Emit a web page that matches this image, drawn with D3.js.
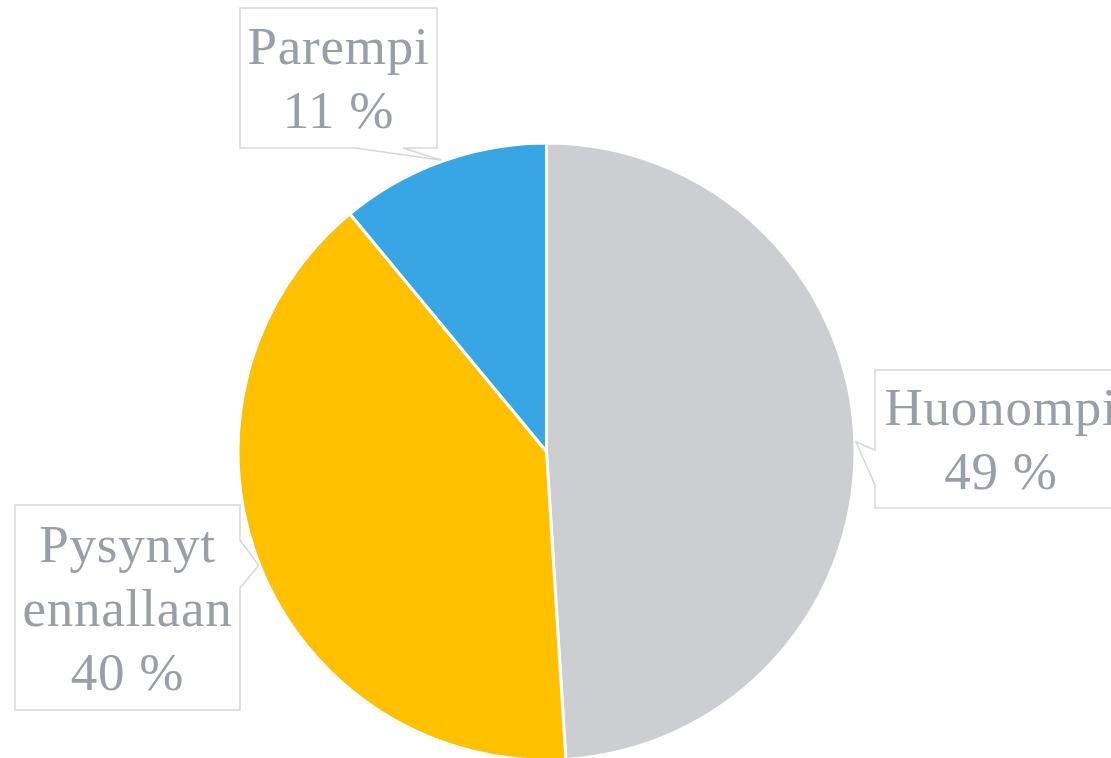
<!doctype html>
<html lang="fi">
	<head>
		<meta charset="utf-8" />
		<title>Pie</title>
		<style>
			html, body { margin: 0; padding: 0; background: #fff; overflow: hidden; }
			svg { display: block; }
			.lbl { font-family: "Liberation Serif", "Times New Roman", serif; font-size: 53px; letter-spacing: 0.8px; fill: #9a9ea7; }
		</style>
	</head>
	<body>
		<div id="chart"></div>
		<script src="https://cdn.jsdelivr.net/npm/d3@7"></script>
		<script>
			// data
			const categories = ["Huonompi", "Pysynyt ennallaan", "Parempi"];
			const values = [49, 40, 11];
			const labelLines = [["Huonompi", "49 %"], ["Pysynyt", "ennallaan", "40 %"], ["Parempi", "11 %"]];
			const colors = ["#cdced2", "#ffc000", "#38a6e2"];

			const WIDTH = 1111;
			const HEIGHT = 758;
			const CX = 546.5;
			const CY = 451.5;
			const R = 308.5;
			const LINE_H = 64;

			// callout boxes (placed by hand like the original), side = where the pointer leaves the box
			const boxes = [
				{ x: 875, y: 370, w: 252, h: 138, side: "left", b0: 450, b1: 485 },
				{ x: 15, y: 505, w: 225, h: 205, side: "right", b0: 540, b1: 588 },
				{ x: 240, y: 8, w: 197, h: 140, side: "bottom", b0: 355, b1: 403 }
			];

			const svg = d3.select("#chart").append("svg").attr("width", WIDTH).attr("height", HEIGHT);

			const pie = d3.pie().sort(null).value((d) => d);
			const arcs = pie(values);
			const arc = d3.arc().innerRadius(0).outerRadius(R);

			const g = svg.append("g").attr("transform", `translate(${CX},${CY})`);
			g.selectAll("path")
				.data(arcs)
				.join("path")
				.attr("d", arc)
				.attr("fill", (d, i) => colors[i])
				.attr("stroke", "#fff")
				.attr("stroke-width", 3)
				.attr("stroke-linejoin", "round");

			// callouts
			arcs.forEach((a, i) => {
				const b = boxes[i];
				const mid = (a.startAngle + a.endAngle) / 2;
				const tx = CX + (R + 1) * Math.sin(mid);
				const ty = CY - (R + 1) * Math.cos(mid);
				const x0 = b.x, y0 = b.y, x1 = b.x + b.w, y1 = b.y + b.h;
				let pts;
				if (b.side === "left") {
					pts = [[x0, y0], [x1, y0], [x1, y1], [x0, y1], [x0, b.b1], [tx, ty], [x0, b.b0]];
				} else if (b.side === "right") {
					pts = [[x0, y0], [x1, y0], [x1, b.b0], [tx, ty], [x1, b.b1], [x1, y1], [x0, y1]];
				} else {
					pts = [[x0, y0], [x1, y0], [x1, y1], [b.b1, y1], [tx, ty], [b.b0, y1], [x0, y1]];
				}
				svg.append("path")
					.attr("d", d3.line()(pts) + "Z")
					.attr("fill", "#fff")
					.attr("stroke", "#d6d7da")
					.attr("stroke-width", 1.5);

				const lines = labelLines[i];
				const cy = b.y + b.h / 2;
				const first = cy - ((lines.length - 1) * LINE_H) / 2 + 18;
				svg.append("text")
					.attr("class", "lbl")
					.attr("text-anchor", "middle")
					.selectAll("tspan")
					.data(lines)
					.join("tspan")
					.attr("x", b.x + b.w / 2)
					.attr("y", (d, j) => first + j * LINE_H)
					.text((d) => d);
			});
		</script>
	</body>
</html>
